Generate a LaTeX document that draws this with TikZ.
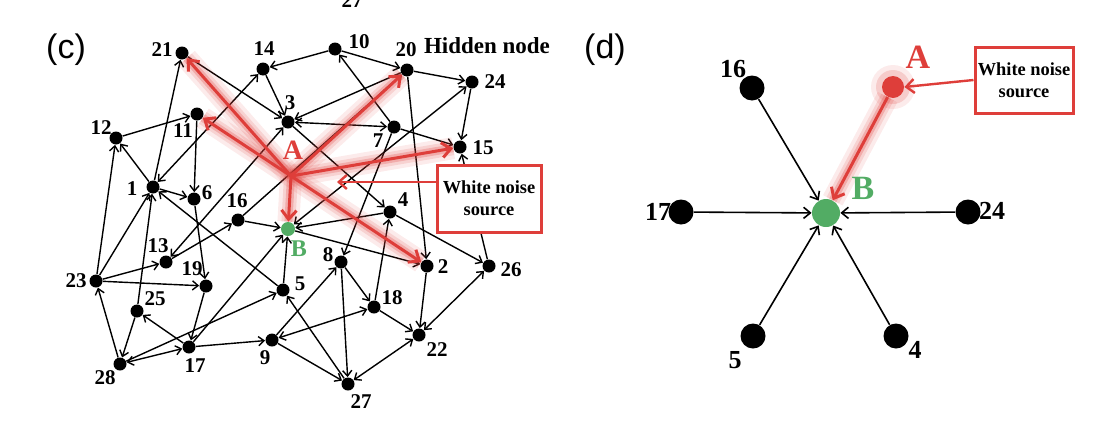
\documentclass[tikz,border=0pt]{standalone}
\usepackage{fontspec}
\setmainfont{Liberation Serif}
\setsansfont{Liberation Sans}
\usetikzlibrary{arrows.meta}
\definecolor{nred}{RGB}{222,62,58}
\definecolor{ngreen}{RGB}{82,172,100}
\begin{document}
\begin{tikzpicture}[x=0.5pt,y=-0.5pt]
\tikzset{
  dot/.style={circle,fill=black,inner sep=0pt,minimum size=6.5pt},
  bigdot/.style={circle,fill=black,inner sep=0pt,minimum size=12.5pt},
  lab/.style={inner sep=0pt,font=\fontsize{10.5}{12}\selectfont\bfseries},
  dlab/.style={inner sep=0pt,font=\fontsize{13}{15}\selectfont\bfseries},
  e/.style={line width=0.7pt,-{Straight Barb[length=2.8pt,width=4.6pt]}},
  be/.style={line width=0.7pt,{Straight Barb[length=2.8pt,width=4.6pt]}-{Straight Barb[length=2.8pt,width=4.6pt]}},
  de/.style={line width=0.8pt,-{Straight Barb[length=3.4pt,width=5.6pt]}},
  glow/.style={preaction={draw,nred,opacity=0.1,line width=11pt,-},preaction={draw,nred,opacity=0.15,line width=7pt,-},preaction={draw,nred,opacity=0.25,line width=4pt,-}},
  redarrow/.style={glow,draw=nred,line width=1.5pt,-{Straight Barb[length=4.5pt,width=7.5pt]}},
  noisebox/.style={draw=nred,line width=1.5pt,fill=white,align=center,inner sep=0pt,font=\fontsize{9.2}{10.8}\selectfont\bfseries},
  boxarrow/.style={draw=nred,line width=1.2pt,-{Straight Barb[length=4pt,width=7pt]}},
  panel/.style={inner sep=0pt,font=\sffamily\fontsize{17}{20}\selectfont},
  redlab/.style={inner sep=0pt,text=nred,font=\fontsize{14}{16}\selectfont\bfseries},
  greenlab/.style={inner sep=0pt,text=ngreen,font=\fontsize{14}{16}\selectfont\bfseries},
}
\useasboundingbox (0,0) rectangle (1102,434);
\node[panel] (pc) at (66,50) {(c)};
\node[panel] (pd) at (605,50) {(d)};
\node[lab,anchor=south] (top27) at (352,8) {27};
\node[inner sep=0pt,font=\fontsize{11.5}{13}\selectfont\bfseries] (hid) at (487,46) {Hidden node};
% ---------------- panel (c) nodes
\node[dot] (n21) at (182,53) {};
\node[dot] (n14) at (263,69) {};
\node[dot] (n10) at (335,49) {};
\node[dot] (n20) at (407,70) {};
\node[dot] (n24) at (472,82) {};
\node[dot] (n3) at (288,122) {};
\node[dot] (n7) at (394,127) {};
\node[dot] (n11) at (197,114) {};
\node[dot] (n12) at (116,138) {};
\node[dot] (n15) at (460,147) {};
\node[dot] (n1) at (153,187) {};
\node[dot] (n6) at (194,199) {};
\node[dot] (n16) at (238,220) {};
\node[circle,fill=ngreen,inner sep=0pt,minimum size=7pt] (nB) at (288,229) {};
\node[dot] (n4) at (390,212) {};
\node[dot] (n13) at (166,262) {};
\node[dot] (n8) at (341,262) {};
\node[dot] (n2) at (427,266) {};
\node[dot] (n26) at (489,266) {};
\node[dot] (n23) at (96,281) {};
\node[dot] (n19) at (206,286) {};
\node[dot] (n5) at (283,290) {};
\node[dot] (n25) at (137,311) {};
\node[dot] (n18) at (374,307) {};
\node[dot] (n17) at (189,347) {};
\node[dot] (n9) at (272,340) {};
\node[dot] (n22) at (419,335) {};
\node[dot] (n28) at (120,364) {};
\node[dot] (n27) at (348,384) {};
\coordinate (nA) at (291,176);
% labels (c)
\node[lab] (l21) at (162,50) {21};
\node[lab] (l14) at (264,49) {14};
\node[lab] (l10) at (359,42) {10};
\node[lab] (l20) at (406,50) {20};
\node[lab] (l24) at (495,82) {24};
\node[lab] (l3) at (290,103) {3};
\node[lab] (l7) at (378,141) {7};
\node[lab] (l11) at (183,131) {11};
\node[lab] (l12) at (101,128) {12};
\node[lab] (l15) at (483,148) {15};
\node[lab] (l1) at (132,189) {1};
\node[lab] (l6) at (207,193) {6};
\node[lab] (l16) at (237,201) {16};
\node[lab] (l4) at (403,200) {4};
\node[lab] (l13) at (158,246) {13};
\node[lab] (l8) at (328,255) {8};
\node[lab] (l2) at (443,267) {2};
\node[lab] (l26) at (511,270) {26};
\node[lab] (l23) at (76,281) {23};
\node[lab] (l19) at (192,269) {19};
\node[lab] (l5) at (300,284) {5};
\node[lab] (l25) at (155,299) {25};
\node[lab] (l18) at (392,298) {18};
\node[lab] (l17) at (195,366) {17};
\node[lab] (l9) at (265,358) {9};
\node[lab] (l22) at (437,350) {22};
\node[lab] (l28) at (105,378) {28};
\node[lab] (l27) at (361,402) {27};
\node[redlab] (lA) at (293,150) {A};
\node[greenlab,font=\fontsize{12}{14}\selectfont\bfseries] (lB) at (299,249) {B};
% edges (c)
\draw[e] (n12) -- (n11);
\draw[e] (n23) -- (n12);
\draw[e] (n1) -- (n12);
\draw[e] (n1) -- (n21);
\draw[be] (n14) -- (n1);
\draw[e] (n21) -- (n3);
\draw[e] (n10) -- (n14);
\draw[e] (n10) -- (n20);
\draw[e] (n20) -- (n3);
\draw[e] (n14) -- (n3);
\draw[be] (n3) -- (n7);
\draw[e] (n7) -- (n10);
\draw[e] (n3) -- (n4);
\draw[be] (n13) -- (n3);
\draw[e] (n20) -- (n24);
\draw[e] (n24) -- (n15);
\draw[e] (n7) -- (n15);
\draw[e] (n26) -- (n15);
\draw[e] (n20) -- (n2);
\draw[e] (n7) -- (n8);
\draw[be] (nB) -- (n24);
\draw[e] (n16) -- (n20);
\draw[e] (n11) -- (n6);
\draw[e] (n1) -- (n6);
\draw[e] (n6) -- (n19);
\draw[e] (n5) -- (n1);
\draw[e] (n23) -- (n1);
\draw[e] (n25) -- (n1);
\draw[e] (n23) -- (n13);
\draw[e] (n23) -- (n19);
\draw[e] (n13) -- (n16);
\draw[e] (n16) -- (nB);
\draw[e] (n17) -- (nB);
\draw[e] (n5) -- (nB);
\draw[e] (n4) -- (nB);
\draw[e] (nB) -- (n2);
\draw[e] (n18) -- (n4);
\draw[e] (n8) -- (n18);
\draw[e] (n4) -- (n26);
\draw[be] (n22) -- (n26);
\draw[e] (n2) -- (n22);
\draw[e] (n18) -- (n22);
\draw[be] (n22) -- (n27);
\draw[e] (n8) -- (n27);
\draw[e] (n9) -- (n27);
\draw[e] (n27) -- (n5);
\draw[e] (n9) -- (n8);
\draw[be] (n9) -- (n18);
\draw[e] (n17) -- (n9);
\draw[e] (n28) -- (n5);
\draw[be] (n28) -- (n17);
\draw[e] (n17) -- (n25);
\draw[e] (n25) -- (n28);
\draw[e] (n28) -- (n23);
\draw[e] (n19) -- (n17);
% red arrows (c)
\draw[redarrow] (nA) -- (n21);
\draw[redarrow] (nA) -- (n11);
\draw[redarrow] (nA) -- (n20);
\draw[redarrow] (nA) -- (n15);
\draw[redarrow] (nA) -- (nB);
\draw[redarrow] (nA) -- (n2);
\node[noisebox,minimum width=52pt,minimum height=33.5pt] (boxc) at (489,198.5) {White noise\\source};
\coordinate (tipc) at (337,182);
\draw[boxarrow] (boxc.west |- tipc) -- (tipc);
% ---------------- panel (d)
\node[bigdot] (d16) at (752,88) {};
\node[bigdot] (d17) at (681,212) {};
\node[circle,fill=ngreen,inner sep=0pt,minimum size=14pt] (dB) at (826,213) {};
\node[bigdot] (d24) at (968,212) {};
\node[bigdot] (d5) at (753,336) {};
\node[bigdot] (d4) at (896,336) {};
\node[dlab] (ld16) at (733,69) {16};
\node[dlab] (ld17) at (658,212) {17};
\node[dlab] (ld24) at (992,211) {24};
\node[dlab] (ld5) at (735,360) {5};
\node[dlab] (ld4) at (915,350) {4};
\draw[de] (d16) -- (dB);
\draw[de] (d17) -- (dB);
\draw[de] (d24) -- (dB);
\draw[de] (d5) -- (dB);
\draw[de] (d4) -- (dB);
\fill[nred,opacity=0.1] (893,87) circle (11pt);
\fill[nred,opacity=0.18] (893,87) circle (8.5pt);
\node[circle,fill=nred,inner sep=0pt,minimum size=11pt] (dA) at (893,87) {};
\draw[redarrow] (dA) -- (dB);
\node[redlab,font=\fontsize{17}{20}\selectfont\bfseries] (ldA) at (918,57) {A};
\node[greenlab,font=\fontsize{17}{20}\selectfont\bfseries] (ldB) at (863,188) {B};
\node[noisebox,minimum width=49pt,minimum height=33pt] (boxd) at (1024,80) {White noise\\source};
\draw[boxarrow] (boxd.west) -- (dA.east);
\end{tikzpicture}
\end{document}
